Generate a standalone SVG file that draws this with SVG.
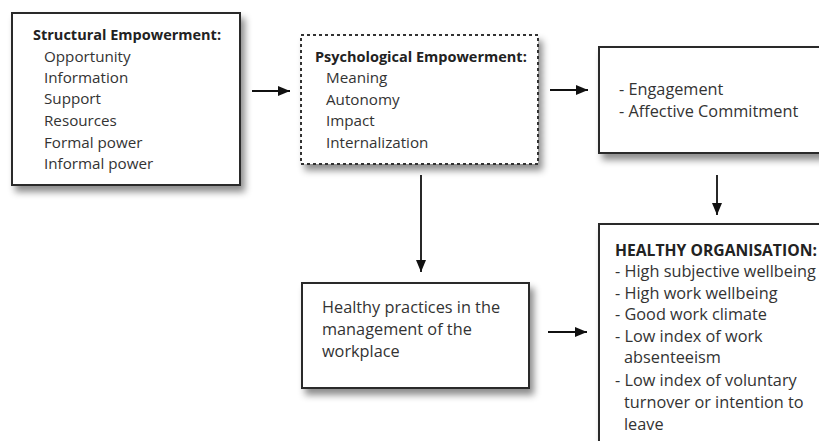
<svg xmlns="http://www.w3.org/2000/svg" width="819" height="441" viewBox="0 0 819 441">
  <defs>
    <filter id="shadow" x="-10%" y="-10%" width="130%" height="140%">
      <feDropShadow dx="4" dy="6" stdDeviation="3.5" flood-color="#000" flood-opacity="0.45"/>
    </filter>
    <marker id="arrow" markerWidth="12" markerHeight="10" refX="12" refY="5" orient="auto" markerUnits="userSpaceOnUse">
      <path d="M0,0 L12,5 L0,10 Z" fill="#111"/>
    </marker>
  </defs>
  <style>
    .box { fill: #fff; stroke: #2a2a2a; stroke-width: 2; }
    .dash { fill: #fff; stroke: #333; stroke-width: 2; stroke-dasharray: 3 3; }
    text { font-family: "Open Sans", "Noto Sans", sans-serif; font-size: 16.3px; fill: #333; }
    .sm { font-size: 15.2px; }
    .b { font-weight: bold; fill: #222; font-size: 14.5px; }
    .bl { font-weight: bold; fill: #222; font-size: 15.7px; }
    .conn line { stroke: #111; stroke-width: 1.8; marker-end: url(#arrow); }
  </style>
  <rect width="819" height="441" fill="#fff"/>

  <g id="structural">
    <rect class="box" x="12" y="13" width="228" height="172" filter="url(#shadow)"/>
    <text x="33" y="40" class="b">Structural Empowerment:</text>
    <text x="44" y="62" class="sm">Opportunity</text>
    <text x="44" y="83" class="sm">Information</text>
    <text x="44" y="104" class="sm">Support</text>
    <text x="44" y="126" class="sm">Resources</text>
    <text x="44" y="148" class="sm">Formal power</text>
    <text x="44" y="169" class="sm">Informal power</text>
  </g>

  <g id="psychological">
    <rect class="dash" x="301" y="35" width="237" height="129" filter="url(#shadow)"/>
    <text x="315" y="62" class="b">Psychological Empowerment:</text>
    <text x="326" y="83" class="sm">Meaning</text>
    <text x="326" y="105" class="sm">Autonomy</text>
    <text x="326" y="126" class="sm">Impact</text>
    <text x="326" y="148" class="sm">Internalization</text>
  </g>

  <g id="engagement">
    <rect class="box" x="599" y="47" width="230" height="106" filter="url(#shadow)"/>
    <text x="619" y="95">- Engagement</text>
    <text x="619" y="117">- Affective Commitment</text>
  </g>

  <g id="practices">
    <rect class="box" x="302" y="283" width="227" height="105" filter="url(#shadow)"/>
    <text x="322" y="313">Healthy practices in the</text>
    <text x="322" y="335">management of the</text>
    <text x="322" y="357">workplace</text>
  </g>

  <g id="organisation">
    <rect class="box" x="599" y="224" width="230" height="230" filter="url(#shadow)"/>
    <text x="615" y="256" class="bl">HEALTHY ORGANISATION:</text>
    <text x="615" y="277">- High subjective wellbeing</text>
    <text x="615" y="299">- High work wellbeing</text>
    <text x="615" y="320">- Good work climate</text>
    <text x="615" y="342">- Low index of work</text>
    <text x="624" y="363">absenteeism</text>
    <text x="615" y="386">- Low index of voluntary</text>
    <text x="624" y="408">turnover or intention to</text>
    <text x="624" y="430">leave</text>
  </g>

  <g class="conn">
    <line x1="252" y1="91" x2="290" y2="91"/>
    <line x1="550" y1="90" x2="588" y2="90"/>
    <line x1="421" y1="175" x2="421" y2="272"/>
    <line x1="717" y1="175" x2="717" y2="215"/>
    <line x1="548" y1="332" x2="587" y2="332"/>
  </g>
</svg>
